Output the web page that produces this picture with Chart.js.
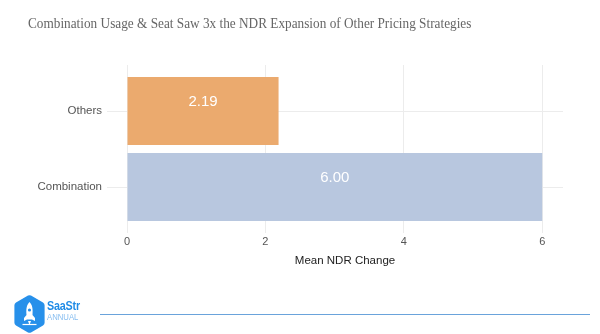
<!DOCTYPE html>
<html>
<head>
<meta charset="utf-8">
<script src="https://cdn.jsdelivr.net/npm/chart.js@4"></script>
<style>
  html, body { margin: 0; padding: 0; background: #ffffff; }
  #wrap { position: relative; width: 600px; height: 334px; overflow: hidden; background: #fff; }
  #chart { position: absolute; left: 0; top: 0; }
  #title { position: absolute; left: 28px; top: 16px; font-family: "Liberation Serif", "DejaVu Serif", serif; font-size: 15px; line-height: 15px; color: #666666; white-space: nowrap; transform-origin: 0 0; transform: scaleX(0.884); }
  #rule { position: absolute; left: 100px; top: 313.5px; width: 490px; height: 1.5px; background: #6aa3db; }
  #logo { position: absolute; left: 13px; top: 294px; }
  #brand1 { position: absolute; left: 47px; top: 300px; font-family: "Liberation Sans", Arial, sans-serif; font-weight: bold; font-size: 12.5px; line-height: 12px; color: #1f8be6; letter-spacing: -0.2px; transform-origin: 0 0; transform: scaleX(0.86); white-space: nowrap; }
  #brand2 { position: absolute; left: 47px; top: 313px; font-family: "Liberation Sans", Arial, sans-serif; font-size: 9px; line-height: 9px; color: #86bdf0; transform-origin: 0 0; transform: scaleX(0.86); white-space: nowrap; }
</style>
</head>
<body>
<div id="wrap">
  <canvas id="chart" width="600" height="334"></canvas>
  <div id="title">Combination Usage &amp; Seat Saw 3x the NDR Expansion of Other Pricing Strategies</div>
  <svg id="logo" width="33" height="40" viewBox="0 0 33 40">
    <path d="M15 1.6 Q16.5 0.8 18 1.6 L30 8.6 Q31.6 9.5 31.6 11.3 L31.6 28.7 Q31.6 30.5 30 31.4 L18 38.4 Q16.5 39.2 15 38.4 L3 31.4 Q1.4 30.5 1.4 28.7 L1.4 11.3 Q1.4 9.5 3 8.6 Z" fill="#2790ea"/>
    <path d="M16.5 8 C19.5 11 20 15 19.5 21 L22 24 L22 27 L19 25.5 L14 25.5 L11 27 L11 24 L13.5 21 C13 15 13.5 11 16.5 8 Z" fill="#ffffff"/>
    <circle cx="16.5" cy="16" r="1.6" fill="#2790ea"/>
    <path d="M15 27 L18 27 L16.5 31 Z" fill="#ffffff"/>
    <path d="M9.5 30.5 L23.5 30.5" stroke="#ffffff" stroke-width="1.2"/>
  </svg>
  <div id="brand1">SaaStr</div>
  <div id="brand2">ANNUAL</div>
  <div id="rule"></div>
</div>
<script>
// ---- data ----
const categories = ['Others', 'Combination'];
const meanNdrChange = [2.19, 6.00];
const barColors = ['#ebaa6e', '#b8c7df'];
const xTickValues = [0, 2, 4, 6];
const xAxisTitle = 'Mean NDR Change';

const gridColor = '#ececec';
const tickColor = '#555555';

const valueLabels = {
  id: 'valueLabels',
  afterDatasetsDraw(chart) {
    const ctx = chart.ctx;
    const meta = chart.getDatasetMeta(0);
    ctx.save();
    ctx.fillStyle = '#ffffff';
    ctx.font = '15px "Liberation Sans", Arial, sans-serif';
    ctx.textAlign = 'center';
    ctx.textBaseline = 'middle';
    meta.data.forEach((bar, i) => {
      const v = chart.data.datasets[0].data[i];
      const cx = (bar.x + bar.base) / 2;
      ctx.fillText(v.toFixed(2), cx, bar.y - 9);
    });
    ctx.restore();
  }
};

const xCommon = {
  type: 'linear',
  min: 0,
  max: 6.3,
  afterBuildTicks(scale) {
    scale.ticks = xTickValues.map(v => ({ value: v }));
  }
};

new Chart(document.getElementById('chart'), {
  type: 'bar',
  data: {
    labels: categories,
    datasets: [{
      data: meanNdrChange,
      backgroundColor: barColors,
      borderWidth: 0,
      categoryPercentage: 1.0,
      barPercentage: 0.895
    }]
  },
  options: {
    indexAxis: 'y',
    responsive: false,
    animation: false,
    events: [],
    layout: { padding: { left: 0, right: 37, top: 65, bottom: 66 } },
    plugins: {
      legend: { display: false },
      tooltip: { enabled: false },
      title: { display: false }
    },
    scales: {
      x: Object.assign({}, xCommon, {
        position: 'bottom',
        border: { display: false },
        grid: { color: gridColor, lineWidth: 1, tickLength: 8, drawTicks: true },
        ticks: {
          color: tickColor,
          padding: 2.5,
          font: { family: '"Liberation Sans", Arial, sans-serif', size: 11 }
        },
        title: {
          display: true,
          text: xAxisTitle,
          color: '#222222',
          padding: { top: 5, bottom: 0 },
          font: { family: '"Liberation Sans", Arial, sans-serif', size: 11.5 }
        },
        afterFit(scale) { scale.height = 43; }
      }),
      x2: Object.assign({}, xCommon, {
        position: 'top',
        border: { display: false },
        grid: { color: gridColor, lineWidth: 1, tickLength: 8, drawTicks: true, drawOnChartArea: false },
        ticks: { display: false }
      }),
      y: {
        type: 'category',
        position: 'left',
        offset: true,
        border: { display: false },
        grid: { color: gridColor, lineWidth: 1, offset: false, tickLength: 20, drawTicks: true },
        ticks: {
          color: tickColor,
          padding: 5,
          font: { family: '"Liberation Sans", Arial, sans-serif', size: 11.5 }
        },
        afterFit(scale) { scale.width = 127; }
      }
    }
  },
  plugins: [valueLabels]
});
</script>
</body>
</html>
